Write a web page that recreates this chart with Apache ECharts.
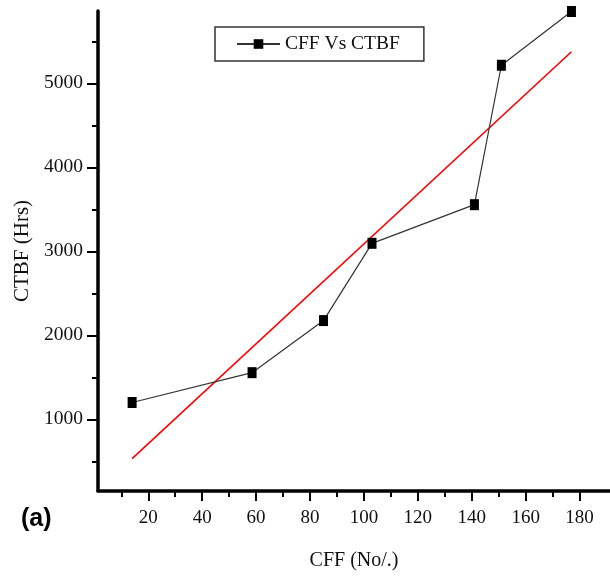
<!DOCTYPE html>
<html>
<head>
<meta charset="utf-8">
<script src="https://cdn.jsdelivr.net/npm/echarts@6/dist/echarts.min.js"></script>
<style>
  html, body { margin: 0; padding: 0; background: #fff; }
  #chart { width: 610px; height: 579px; }
</style>
</head>
<body>
<div id="chart"></div>
<script>
// Measured CFF counts and the cumulative time between failures
const cff = [14, 58.5, 85, 103, 141, 151, 177];
const ctbf = [1200, 1555, 2175, 3095, 3555, 5215, 5855];

// Straight-line fit drawn in red (end points)
const fitCff = [14, 177];
const fitCtbf = [531, 5376];

// Tick positions
const xMajorTicks = [20, 40, 60, 80, 100, 120, 140, 160, 180];
const xMinorTicks = [10, 30, 50, 70, 90, 110, 130, 150, 170];
const yMajorTicks = [1000, 2000, 3000, 4000, 5000];
const yMinorTicks = [500, 1500, 2500, 3500, 4500, 5500];

const seriesName = 'CFF Vs CTBF';
const xName = 'CFF (No/.)';
const yName = 'CTBF (Hrs)';
const panelTag = '(a)';

const serif = '"Liberation Serif", "Times New Roman", serif';
const X_MIN = 1.34, X_MAX = 191.3;
const Y_MIN = 146, Y_MAX = 5861;

const plain = v => String(v);

const chart = echarts.init(document.getElementById('chart'), null, { renderer: 'canvas' });

const axisCommon = { splitLine: { show: false } };

chart.setOption({
  animation: false,
  backgroundColor: '#fff',
  grid: { left: 98, right: 0, top: 11, bottom: 88, containLabel: false },
  legend: {
    data: [seriesName],
    left: 215,
    top: 27,
    orient: 'horizontal',
    borderColor: '#333',
    borderWidth: 1.5,
    padding: [7, 24, 7, 21],
    itemWidth: 43,
    itemHeight: 12,
    itemGap: 0,
    textStyle: { fontFamily: serif, fontSize: 19.5, color: '#111', lineHeight: 20 }
  },
  xAxis: [
    Object.assign({}, axisCommon, {
      type: 'value', min: X_MIN, max: X_MAX, position: 'bottom',
      axisLine: { show: true, lineStyle: { color: '#000', width: 3.5 } },
      axisTick: { show: true, customValues: xMajorTicks, length: 10, lineStyle: { color: '#000', width: 2 } },
      axisLabel: { customValues: xMajorTicks, formatter: plain, margin: 18, fontFamily: serif, fontSize: 19, color: '#111' },
      name: xName, nameLocation: 'middle', nameGap: 60,
      nameTextStyle: { fontFamily: serif, fontSize: 20, color: '#111' }
    }),
    Object.assign({}, axisCommon, {
      type: 'value', min: X_MIN, max: X_MAX, position: 'bottom',
      axisLine: { show: false },
      axisTick: { show: true, customValues: xMinorTicks, length: 6, lineStyle: { color: '#000', width: 2 } },
      axisLabel: { show: false }
    })
  ],
  yAxis: [
    Object.assign({}, axisCommon, {
      type: 'value', min: Y_MIN, max: Y_MAX, position: 'left',
      axisLine: { show: true, lineStyle: { color: '#000', width: 3.5 } },
      axisTick: { show: true, customValues: yMajorTicks, length: 11, lineStyle: { color: '#000', width: 2 } },
      axisLabel: { customValues: yMajorTicks, formatter: plain, margin: 15, fontFamily: serif, fontSize: 19.5, color: '#111' },
      name: yName, nameLocation: 'middle', nameGap: 56,
      nameTextStyle: { fontFamily: serif, fontSize: 21, color: '#111' }
    }),
    Object.assign({}, axisCommon, {
      type: 'value', min: Y_MIN, max: Y_MAX, position: 'left',
      axisLine: { show: false },
      axisTick: { show: true, customValues: yMinorTicks, length: 6, lineStyle: { color: '#000', width: 2 } },
      axisLabel: { show: false }
    })
  ],
  series: [
    {
      name: 'fit',
      type: 'line',
      xAxisIndex: 0, yAxisIndex: 0,
      data: fitCff.map((x, i) => [x, fitCtbf[i]]),
      symbol: 'none',
      lineStyle: { color: '#ff0000', width: 1.6 },
      itemStyle: { color: '#ff0000' },
      z: 2
    },
    {
      name: seriesName,
      type: 'line',
      xAxisIndex: 0, yAxisIndex: 0,
      data: cff.map((x, i) => [x, ctbf[i]]),
      symbol: 'rect',
      symbolSize: [9, 11],
      showAllSymbol: true,
      lineStyle: { color: '#333', width: 1.2 },
      itemStyle: { color: '#000' },
      z: 3
    }
  ],
  graphic: [
    {
      type: 'text',
      left: 21, top: 507,
      style: { text: panelTag, font: 'bold 25px "Liberation Sans", Arial, sans-serif', fill: '#000' }
    }
  ]
});
</script>
</body>
</html>
